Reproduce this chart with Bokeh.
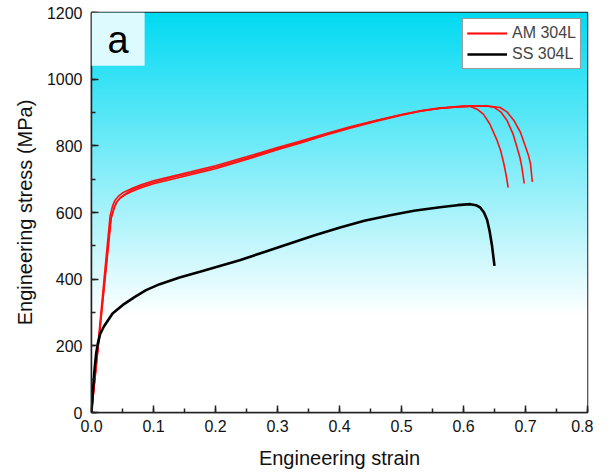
import numpy as np
from bokeh.plotting import figure
from bokeh.models import (Range1d, SingleIntervalTicker, PrintfTickFormatter,
                          Legend, LegendItem, BoxAnnotation, Label)
from bokeh.embed import file_html
from bokeh.resources import INLINE

# ---- data ----
am1_strain = [0, 0.010, 0.020, 0.030, 0.034, 0.038, 0.044, 0.052, 0.065, 0.08, 0.1, 0.13, 0.16, 0.2, 0.25, 0.3,
              0.336, 0.38, 0.417, 0.46, 0.5, 0.53, 0.56, 0.59, 0.6, 0.611, 0.622, 0.632, 0.642, 0.654, 0.660,
              0.665, 0.669, 0.672]
am1_stress = [0, 195, 395, 590, 620, 637, 650, 661, 672, 683, 695, 709, 722, 740, 767, 795,
              814, 838, 857, 877, 894, 905, 913, 918, 919, 918, 910, 895, 867, 817, 785,
              747, 710, 675]

am2_strain = [0, 0.010, 0.020, 0.031, 0.036, 0.040, 0.046, 0.055, 0.065, 0.08, 0.1, 0.13, 0.16, 0.2, 0.25, 0.3,
              0.336, 0.38, 0.417, 0.46, 0.5, 0.53, 0.56, 0.59, 0.61, 0.635, 0.649, 0.66, 0.670, 0.680, 0.686,
              0.691, 0.694, 0.698]
am2_stress = [0, 185, 375, 580, 612, 630, 643, 654, 663, 674, 686, 700, 713, 731, 759, 788,
              808, 833, 853, 874, 892, 904, 912, 917, 919, 920, 916, 902, 877, 835, 797,
              765, 737, 687]

am3_strain = [0, 0.010, 0.020, 0.032, 0.037, 0.041, 0.047, 0.055, 0.065, 0.08, 0.1, 0.13, 0.16, 0.2, 0.25, 0.3,
              0.336, 0.38, 0.417, 0.46, 0.5, 0.53, 0.56, 0.59, 0.61, 0.64, 0.659, 0.670, 0.681, 0.692, 0.700,
              0.705, 0.708, 0.711]
am3_stress = [0, 180, 365, 585, 615, 632, 645, 656, 668, 679, 691, 705, 718, 736, 763, 791,
              811, 836, 855, 876, 893, 904, 912, 917, 919, 919, 915, 902, 877, 840, 797,
              770, 747, 692]

ss_strain = [0, 0.002, 0.005, 0.0075, 0.010, 0.014, 0.02, 0.034, 0.05, 0.07, 0.088, 0.11, 0.142, 0.175, 0.2,
             0.239, 0.28, 0.32, 0.36, 0.401, 0.44, 0.482, 0.52, 0.562, 0.59, 0.611, 0.62, 0.627, 0.633,
             0.638, 0.642, 0.646, 0.649, 0.650]
ss_stress = [0, 60, 130, 177, 205, 236, 258, 297, 322, 347, 367, 385, 405, 422, 436,
             457, 482, 507, 532, 555, 575, 592, 605, 616, 622, 625, 622, 615, 600,
             578, 545, 500, 455, 440]

series_labels = ["AM 304L", "SS 304L"]
panel_letter = "a"

FONT = "Liberation Sans"

p = figure(width=593, height=457, frame_width=496, frame_height=400,
           x_range=Range1d(0, 0.8), y_range=Range1d(0, 1200),
           output_backend="svg", toolbar_location=None,
           min_border_left=91, min_border_right=6, min_border_top=12, min_border_bottom=45)
p.background_fill_color = "white"
p.border_fill_color = "white"
p.xgrid.visible = False
p.ygrid.visible = False
p.outline_line_color = "#222222"
p.outline_line_width = 1.5

# gradient background (cyan at top to white)
N = 300
img = np.zeros((N, 1), dtype=np.uint32)
view = img.view(dtype=np.uint8).reshape((N, 1, 4))
top = np.array([0, 218, 242], dtype=float)
for i in range(N):
    s = (i + 0.5) * 1200.0 / N
    t = min(max((s - 290.0) / (1200.0 - 290.0), 0.0), 1.0)
    c = 255.0 * (1 - t) + top * t
    view[i, 0, 0] = int(round(c[0]))
    view[i, 0, 1] = int(round(c[1]))
    view[i, 0, 2] = int(round(c[2]))
    view[i, 0, 3] = 255
p.image_rgba(image=[img], x=0, y=0, dw=0.8, dh=1200)

# panel label box
p.add_layout(BoxAnnotation(left=0, right=0.0857, bottom=1040, top=1200,
                           fill_color="#dcfaff", fill_alpha=1.0, line_color=None))
p.add_layout(Label(x=0.0428, y=1118, text=panel_letter, text_font=FONT, text_font_size="38px",
                   text_align="center", text_baseline="middle", text_color="black"))

r1 = p.line(am1_strain, am1_stress, line_color="#ff1010", line_width=1.6)
r2 = p.line(am2_strain, am2_stress, line_color="#ff1010", line_width=1.6)
r3 = p.line(am3_strain, am3_stress, line_color="#ff1010", line_width=1.6)
rs = p.line(ss_strain, ss_stress, line_color="black", line_width=2.6)

legend = Legend(items=[LegendItem(label=series_labels[0], renderers=[r1, r2, r3]),
                       LegendItem(label=series_labels[1], renderers=[rs])],
                location="top_right", margin=6, padding=4, spacing=1,
                glyph_width=40, glyph_height=20, label_height=20, label_standoff=5,
                label_text_font=FONT, label_text_font_size="16px",
                border_line_color="#333333", border_line_width=1,
                background_fill_color="white", background_fill_alpha=1.0)
p.add_layout(legend)

# axes
p.xaxis.ticker = SingleIntervalTicker(interval=0.1, num_minor_ticks=2)
p.yaxis.ticker = SingleIntervalTicker(interval=200, num_minor_ticks=2)
p.xaxis.formatter = PrintfTickFormatter(format="%.1f")
p.yaxis.formatter = PrintfTickFormatter(format="%d")
p.xaxis.axis_label = "Engineering strain"
p.yaxis.axis_label = "Engineering stress (MPa)"
for ax in (p.xaxis, p.yaxis):
    ax.axis_line_color = "#222222"
    ax.axis_line_width = 1.5
    ax.major_tick_in = 7
    ax.major_tick_out = 0
    ax.minor_tick_in = 4
    ax.minor_tick_out = 0
    ax.major_tick_line_color = "#222222"
    ax.minor_tick_line_color = "#222222"
    ax.major_tick_line_width = 1.5
    ax.minor_tick_line_width = 1.5
    ax.major_label_text_font = FONT
    ax.major_label_text_font_size = "16px"
    ax.major_label_text_color = "#111111"
    ax.axis_label_text_font = FONT
    ax.axis_label_text_font_size = "20px"
    ax.axis_label_text_font_style = "normal"
    ax.axis_label_text_color = "#111111"
p.xaxis.major_label_standoff = 7
p.yaxis.major_label_standoff = 9
p.xaxis.axis_label_standoff = 12
p.yaxis.axis_label_standoff = 8

open("out.html", "w").write(file_html(p, INLINE))
